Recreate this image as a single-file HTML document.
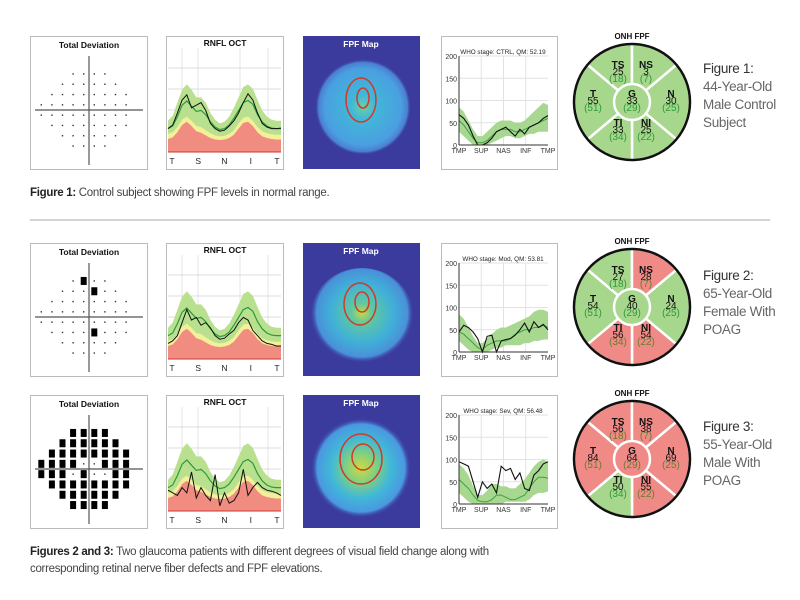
<!DOCTYPE html>
<html><head><meta charset="utf-8"><style>
html,body{margin:0;padding:0;background:#fff;}
body{width:800px;height:600px;position:relative;overflow:hidden;font-family:"Liberation Sans",sans-serif;}
.cap{position:absolute;left:30px;font-size:11.5px;color:#444;letter-spacing:-0.3px;line-height:17px;}
.cap b{color:#222;}
.figl{position:absolute;left:703px;font-size:13.5px;color:#666;line-height:18px;letter-spacing:-0.3px;}
.figl b{color:#333;font-weight:normal;}
</style></head><body>
<svg id="main" width="800" height="600" style="position:absolute;left:0;top:0" xmlns="http://www.w3.org/2000/svg">
<defs>
<radialGradient id="blob1" cx="0.5" cy="0.5" r="0.5"><stop offset="0" stop-color="#6fd0a0"/><stop offset="0.25" stop-color="#40b8d8"/><stop offset="0.8" stop-color="#4a9fe0"/><stop offset="0.93" stop-color="#4a80d0"/><stop offset="1" stop-color="#3b3b9e" stop-opacity="0"/></radialGradient>
<radialGradient id="blob2" cx="0.5" cy="0.45" r="0.5"><stop offset="0" stop-color="#c8d840"/><stop offset="0.2" stop-color="#60c8a0"/><stop offset="0.6" stop-color="#40b0d8"/><stop offset="0.88" stop-color="#4a90d8"/><stop offset="1" stop-color="#3b3b9e" stop-opacity="0"/></radialGradient>
<radialGradient id="blob3" cx="0.5" cy="0.5" r="0.5"><stop offset="0" stop-color="#d0d840"/><stop offset="0.3" stop-color="#80d080"/><stop offset="0.6" stop-color="#40b8d8"/><stop offset="0.88" stop-color="#4a98e0"/><stop offset="1" stop-color="#3b3b9e" stop-opacity="0"/></radialGradient>
</defs>
</svg>
<div class="cap" style="top:185px"><b>Figure 1:</b> Control subject showing FPF levels in normal range.</div>
<div class="cap" style="top:544px"><b>Figures 2 and 3:</b> Two glaucoma patients with different degrees of visual field change along with<br>corresponding retinal nerve fiber defects and FPF elevations.</div>
<div class="figl" style="top:60px"><b>Figure 1:</b><br>44-Year-Old<br>Male Control<br>Subject</div>
<div class="figl" style="top:267px"><b>Figure 2:</b><br>65-Year-Old<br>Female With<br>POAG</div>
<div class="figl" style="top:418px"><b>Figure 3:</b><br>55-Year-Old<br>Male With<br>POAG</div>
<script>
// ---- data ----
const rowTops=[36,243,395];
const rnflUpper=[60,70,95,120,130,120,105,105,95,75,62,55,58,68,85,105,125,130,122,100,80,68,62,60,60];
const rnflYellow=[35,38,48,62,68,60,50,48,42,36,32,30,31,35,42,55,66,68,60,48,40,36,34,33,33];
const rnflRed=[25,28,38,52,58,50,40,37,32,27,24,23,24,27,33,45,56,58,50,38,30,27,25,24,24];
const rnflMean=[45,50,68,90,98,88,78,80,72,58,48,43,45,52,65,80,95,99,92,72,58,50,46,45,45];
const rnflPatient1=[45,52,75,100,110,85,90,95,80,55,45,40,42,50,60,75,95,112,100,75,55,48,45,45,46];
const rnflPatient2=[30,35,45,70,95,75,80,65,70,60,45,38,40,48,55,70,80,75,55,45,35,30,28,25,25];
const rnflPatient3=[40,35,30,45,35,75,25,45,30,20,70,10,35,15,20,35,80,30,45,55,45,40,38,35,30];
const rnflTicks=["T","S","N","I","T"];
const whoTitles=["WHO stage: CTRL,  QM: 52.19","WHO stage: Mod,  QM: 53.81","WHO stage: Sev,  QM: 56.48"];
const whoUpper1=[85,75,55,35,20,20,30,40,50,55,55,55,50,50,55,65,75,85,95,90];
const whoLower1=[30,20,10,0,0,0,0,5,10,15,20,20,15,15,20,25,25,30,30,30];
const whoMean1=[55,45,30,15,5,5,10,20,30,35,35,35,30,30,35,40,45,50,55,60];
const whoPatient1=[68,60,45,20,0,0,5,15,30,35,40,30,20,35,25,40,45,50,60,66];
const whoUpper2=[85,75,55,35,20,20,30,40,50,55,55,60,65,70,75,80,90,95,95,90];
const whoLower2=[25,15,5,0,0,0,0,5,10,10,15,15,15,15,20,20,25,25,28,28];
const whoMean2=[45,40,30,20,10,5,15,20,25,25,25,30,40,45,50,50,55,55,60,55];
const whoPatient2=[45,60,55,45,30,0,35,38,0,25,28,30,38,50,65,45,68,55,62,50];
const whoUpper3=[90,80,65,40,20,20,30,45,45,40,40,35,35,45,55,70,85,95,100,95];
const whoLower3=[25,15,5,0,0,0,0,0,0,0,5,5,5,5,5,10,20,25,25,28];
const whoMean3=[55,45,35,20,8,5,5,10,20,20,15,10,10,15,20,35,50,60,60,58];
const whoPatient3=[95,90,85,50,15,50,35,45,25,85,75,80,55,70,35,30,65,75,90,95];
const whoYTicks=[0,50,100,150,200];
const whoXTicks=["TMP","SUP","NAS","INF","TMP"];
const onhSectors=["N","NI","TI","T","TS","NS"];
const onhValues1=[30,25,33,55,25,3]; const onhG1=33;
const onhValues2=[24,54,56,54,27,28]; const onhG2=40;
const onhValues3=[69,55,50,84,56,38]; const onhG3=64;
const onhNormal=[25,22,34,51,18,7]; const onhGNormal=29;
const onhAbn1=[0,0,0,0,0,0], onhAbn2=[0,1,1,0,0,1], onhAbn3=[1,1,0,1,1,1];
const onhGAbn=[0,0,1];

const svg=document.getElementById('main');
const NS='http://www.w3.org/2000/svg';
function mk(tag,attrs,parent){const e=document.createElementNS(NS,tag);for(const k in attrs)e.setAttribute(k,attrs[k]);(parent||svg).appendChild(e);return e;}
function txt(x,y,s,attrs,parent){const t=mk('text',Object.assign({x:x,y:y,'font-family':'Liberation Sans, sans-serif'},attrs),parent);t.textContent=s;return t;}

const dv=mk('line',{x1:30,y1:220,x2:770,y2:220,stroke:'#aaa','stroke-width':1});



rowTops.forEach((top,ri)=>{
  const H=133;
  // ---------- Total deviation ----------
  const g1=mk('g',{});
  
  
  mk('rect',{x:30.5,y:top+0.5,width:117,height:H,fill:'#fff',stroke:'#bbb'},g1);
  txt(89,top+12,'Total Deviation',{'font-size':8.5,'font-weight':'bold','text-anchor':'middle',fill:'#111'},g1);
  const cx=89,cy=top+74;
  mk('line',{x1:cx,y1:top+20,x2:cx,y2:top+H-4,stroke:'#555','stroke-width':1.2},g1);
  mk('line',{x1:35,y1:cy,x2:143,y2:cy,stroke:'#555','stroke-width':1.2},g1);
  const rows=[[-2,-1,0,1],[-3,-2,-1,0,1,2],[-4,-3,-2,-1,0,1,2,3],[-5,-4,-3,-2,-1,0,1,2,3],[-5,-4,-3,-2,-1,0,1,2,3],[-4,-3,-2,-1,0,1,2,3],[-3,-2,-1,0,1,2],[-2,-1,0,1]];
  const sev2=new Set(['0,-1','1,0','5,0']);
  rows.forEach((cols,r)=>{
    cols.forEach(c=>{
      const px=cx+(c+0.5)*10.6, py=cy+(r-3.5)*10.3;
      let big=false;
      if(ri===2) big=!(r===3&&(c===-1||c===0))&&!(r===4&&(c===-2||c===0||c===1));
      if(ri===1) big=sev2.has(r+','+c);
      if(big){mk('rect',{x:px-3,y:py-4,width:6,height:8,fill:'#000'},g1);}
      else mk('rect',{x:px-0.7,y:py-0.7,width:1.4,height:1.4,fill:'#333'},g1);
    });
  });

  // ---------- RNFL OCT ----------
  const g2=mk('g',{});
  
  
  mk('rect',{x:166.5,y:top+0.5,width:117,height:H,fill:'#fff',stroke:'#bbb'},g2);
  txt(225,top+10,'RNFL OCT',{'font-size':8.5,'font-weight':'bold','text-anchor':'middle',fill:'#111'},g2);
  const L=168,R=281,B=top+116,T=top+12;
  const xs=i=>L+i*(R-L)/(rnflUpper.length-1);
  const ys=v=>B-v*(B-T)/200;
  [168+14,168+30,168+72,168+100].forEach(x=>mk('line',{x1:x,y1:T,x2:x,y2:B,stroke:'#e4e4e4'},g2));
  [0.25,0.5,0.75,1].forEach(f=>mk('line',{x1:L,y1:B-f*84,x2:R,y2:B-f*84,stroke:'#ddd'},g2));
  function area(arr,fill,name){
    let d='M'+L+','+B;arr.forEach((v,i)=>d+=' L'+xs(i).toFixed(1)+','+ys(v).toFixed(1));d+=' L'+R+','+B+'Z';
    const p=mk('path',{d:d,fill:fill},g2);
    
    
  }
  area(rnflUpper,'#b9e08e','rnfl-normal-band');
  area(rnflYellow,'#f4f09a','rnfl-borderline-band');
  area(rnflRed,'#f08c80','rnfl-abnormal-band');
  function line(arr,stroke,w,name){
    let d='';arr.forEach((v,i)=>d+=(i?' L':'M')+xs(i).toFixed(1)+','+ys(v).toFixed(1));
    const p=mk('path',{d:d,fill:'none',stroke:stroke,'stroke-width':w},g2);
    
    
  }
  line(rnflMean,'#2a9a3a',1.2,'rnfl-mean-line');
  line([rnflPatient1,rnflPatient2,rnflPatient3][ri],'#111',1,'rnfl-patient-line');
  mk('line',{x1:L,y1:B,x2:R,y2:B,stroke:'#c33','stroke-width':1},g2);
  rnflTicks.forEach((t,i)=>txt(L+4+i*(R-L-8)/4,top+128,t,{'font-size':8.5,'text-anchor':'middle',fill:'#222'},g2));

  // ---------- FPF Map ----------
  const g3=mk('g',{});
  
  
  mk('rect',{x:303,y:top,width:117,height:H,fill:'#3b3b9e'},g3);
  txt(361,top+11,'FPF Map',{'font-size':8.5,'font-weight':'bold','text-anchor':'middle',fill:'#fff'},g3);
  const bx=[363,362,361][ri], by=top+[71,75,73][ri];
  mk('ellipse',{cx:bx,cy:by,rx:[48,52,50][ri],ry:[48,50,50][ri],fill:'url(#blob'+(ri+1)+')'},g3);
  const ex=[361,360,361][ri], ey=top+[64,61,64][ri];
  mk('ellipse',{cx:ex,cy:ey,rx:[15,16,21][ri],ry:[22,21,25][ri],fill:'none',stroke:'#d03a2a','stroke-width':1.5},g3);
  mk('ellipse',{cx:ex+2,cy:ey-2,rx:[6,7,11][ri],ry:[10,10,13][ri],fill:'none',stroke:'#d03a2a','stroke-width':1.5},g3);

  // ---------- WHO line chart ----------
  const g4=mk('g',{});
  
  
  mk('rect',{x:441.5,y:top+0.5,width:116,height:H,fill:'#fff',stroke:'#bbb'},g4);
  const wL=459,wR=548,wT=top+20,wB=top+109;
  const up=[whoUpper1,whoUpper2,whoUpper3][ri],lo=[whoLower1,whoLower2,whoLower3][ri],mn=[whoMean1,whoMean2,whoMean3][ri],pt=[whoPatient1,whoPatient2,whoPatient3][ri];
  const wx=i=>wL+i*(wR-wL)/(up.length-1), wy=v=>wB-v*(wB-wT)/200;
  for(let k=1;k<4;k++) mk('line',{x1:wL+k*(wR-wL)/4,y1:wT,x2:wL+k*(wR-wL)/4,y2:wB,stroke:'#e2e2e2'},g4);
  whoYTicks.forEach(v=>{ if(v>0) mk('line',{x1:wL,y1:wy(v),x2:wR,y2:wy(v),stroke:'#e2e2e2'},g4);
    txt(wL-2,wy(v)+3,String(v),{'font-size':7,'text-anchor':'end',fill:'#333'},g4);});
  let d='';up.forEach((v,i)=>d+=(i?' L':'M')+wx(i).toFixed(1)+','+wy(v).toFixed(1));
  for(let i=lo.length-1;i>=0;i--) d+=' L'+wx(i).toFixed(1)+','+wy(lo[i]).toFixed(1);
  const band=mk('path',{d:d+'Z',fill:'#a8d890'},g4);
  
  
  let dm='';mn.forEach((v,i)=>dm+=(i?' L':'M')+wx(i).toFixed(1)+','+wy(v).toFixed(1));
  const ml=mk('path',{d:dm,fill:'none',stroke:'#3aa040','stroke-width':1},g4);
  
  
  let dp='';pt.forEach((v,i)=>dp+=(i?' L':'M')+wx(i).toFixed(1)+','+wy(v).toFixed(1));
  const pl=mk('path',{d:dp,fill:'none',stroke:'#111','stroke-width':1.1},g4);
  
  
  mk('line',{x1:wL,y1:wT,x2:wL,y2:wB,stroke:'#333'},g4);
  mk('line',{x1:wL,y1:wB,x2:wR,y2:wB,stroke:'#333'},g4);
  txt(503,wT-2,whoTitles[ri],{'font-size':6.3,'text-anchor':'middle',fill:'#222'},g4);
  whoXTicks.forEach((t,i)=>txt(wL+i*(wR-wL)/4,wB+8,t,{'font-size':7,'text-anchor':'middle',fill:'#333'},g4));

  // ---------- ONH FPF ----------
  const g5=mk('g',{});
  
  
  const ox=632, oy=top+[66,64,64][ri], r=58, ir=18;
  txt(ox,oy-r-5,'ONH FPF',{'font-size':8,'font-weight':'bold','text-anchor':'middle',fill:'#111'},g5);
  const angs=[[-40,40],[40,90],[90,140],[140,220],[220,270],[270,320]];
  const vals=[onhValues1,onhValues2,onhValues3][ri], abn=[onhAbn1,onhAbn2,onhAbn3][ri];
  const pos=[[39,0],[14,29],[-14,29],[-39,0],[-14,-29],[14,-29]];
  angs.forEach((a,k)=>{
    const a0=a[0]*Math.PI/180,a1=a[1]*Math.PI/180;
    const p=`M${ox},${oy} L${ox+r*Math.cos(a0)},${oy+r*Math.sin(a0)} A${r},${r} 0 ${a[1]-a[0]>180?1:0} 1 ${ox+r*Math.cos(a1)},${oy+r*Math.sin(a1)} Z`;
    const s=mk('path',{d:p,fill:abn[k]?'#f08a86':'#a6d78c',stroke:'#fff','stroke-width':2.5},g5);
    
    
    const tx=ox+pos[k][0], ty=oy+pos[k][1];
    txt(tx,ty-5,onhSectors[k],{'font-size':10,'font-weight':'bold','text-anchor':'middle',fill:'#111'},g5);
    txt(tx,ty+2,String(vals[k]),{'font-size':10,'text-anchor':'middle',fill:'#111'},g5);
    txt(tx,ty+9,'('+onhNormal[k]+')',{'font-size':10,'text-anchor':'middle',fill:abn[k]?'#6a7a30':'#2f9a3a'},g5);
  });
  mk('circle',{cx:ox,cy:oy,r:ir,fill:onhGAbn[ri]?'#f08a86':'#a6d78c',stroke:'#fff','stroke-width':2.5},g5);
  txt(ox,oy-5,'G',{'font-size':10,'font-weight':'bold','text-anchor':'middle',fill:'#111'},g5);
  txt(ox,oy+2,String([onhG1,onhG2,onhG3][ri]),{'font-size':10,'text-anchor':'middle',fill:'#111'},g5);
  txt(ox,oy+9,'('+onhGNormal+')',{'font-size':10,'text-anchor':'middle',fill:onhGAbn[ri]?'#6a7a30':'#2f9a3a'},g5);
  mk('circle',{cx:ox,cy:oy,r:r,fill:'none',stroke:'#111','stroke-width':2.5},g5);
});
</script>
</body></html>
